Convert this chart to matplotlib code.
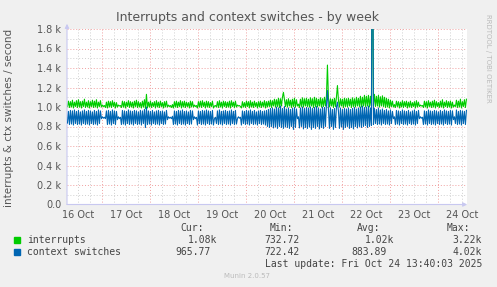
import numpy as np
import matplotlib
matplotlib.use('Agg')
import matplotlib.pyplot as plt


# données (une valeur par 30 min, à partir du 16 oct ~06:40)
debut_jours = 0.28
pas_jours = 1 / 48

interrupts = [
    1005, 1060, 995, 1055, 1000, 1070, 990, 1050, 1005, 1065, 995, 1075, 1000, 1055, 990, 1060, 1005, 1080, 995, 1050,
    1000, 1065, 990, 1055, 1005, 1070, 995, 1060, 1000, 1075, 990, 1050, 1005, 1065, 1000, 1020, 1005, 1015, 995, 1050,
    990, 1060, 1000, 1055, 995, 1065, 1005, 1050, 990, 1045, 1000, 1020, 1010, 1015, 995, 1060, 1000, 1055, 990, 1050,
    1005, 1065, 995, 1055, 1000, 1050, 990, 1060, 1005, 1070, 995, 1055, 1000, 1045, 990, 1060, 1000, 1075, 985, 1130,
    990, 1050, 1000, 1060, 995, 1045, 1005, 1055, 990, 1065, 1000, 1050, 995, 1060, 1005, 1045, 990, 1055, 1000, 1060,
    1000, 1020, 1005, 1015, 995, 1025, 990, 1055, 1000, 1060, 995, 1050, 1005, 1065, 990, 1055, 1000, 1060, 995, 1050,
    1005, 1045, 990, 1060, 1000, 1055, 1000, 1020, 1005, 1015, 990, 1055, 1000, 1060, 995, 1065, 1005, 1050, 990, 1060,
    1000, 1055, 995, 1045, 1005, 1060, 990, 1010, 1015, 1000, 1055, 995, 1065, 1000, 1050, 990, 1060, 1005, 1055, 995,
    1050, 1000, 1060, 990, 1065, 1005, 1050, 995, 1060, 1000, 1020, 1010, 1015, 1005, 990, 1055, 1000, 1045, 995, 1060,
    1005, 1055, 990, 1065, 1000, 1050, 995, 1060, 1005, 1045, 990, 1055, 1000, 1060, 995, 1050, 1005, 1065, 990, 1055,
    1000, 1060, 1005, 1070, 995, 1065, 1010, 1080, 1000, 1075, 1005, 1090, 995, 1085, 1010, 1100, 1150, 1080, 1005, 1075,
    1000, 1085, 1010, 1070, 995, 1080, 1005, 1090, 1000, 1075, 1010, 1030, 995, 1080, 1005, 1095, 1000, 1085, 1010, 1090,
    1005, 1080, 1000, 1095, 1010, 1085, 995, 1100, 1005, 1090, 1000, 1080, 1010, 1095, 1000, 1085, 1005, 1100, 1010, 1110,
    1430, 1090, 1000, 1085, 1010, 1080, 995, 1090, 1005, 1100, 1220, 1070, 1000, 1085, 1010, 1080, 995, 1090, 1005, 1085,
    1000, 1090, 1010, 1080, 995, 1095, 1005, 1085, 1000, 1100, 1010, 1090, 1005, 1110, 1000, 1100, 1010, 1120, 1005, 1110,
    1010, 1120, 1000, 1110, 1010, 3220, 1015, 1130, 1005, 1110, 1010, 1120, 1000, 1105, 1010, 1115, 1005, 1100, 995, 1090,
    1000, 1080, 990, 1070, 1005, 1060, 1000, 1025, 995, 1060, 1005, 1055, 990, 1050, 1000, 1065, 995, 1055, 1005, 1060,
    990, 1050, 1000, 1060, 995, 1045, 1005, 1055, 990, 1065, 1000, 1050, 1005, 1020, 1010, 1015, 995, 1060, 1000, 1055,
    990, 1065, 1005, 1050, 995, 1060, 1000, 1070, 990, 1055, 1005, 1045, 995, 1060, 1000, 1075, 990, 1050, 1005, 1065,
    995, 1055, 1000, 1060, 990, 1050, 1000, 1020, 1005, 1070, 995, 1060, 1000, 1080, 990, 1055, 1005, 1075, 995, 1080,
]

context_switches = [
    835, 955, 820, 965, 825, 960, 815, 970, 830, 955, 820, 965, 825, 950, 815, 960, 830, 970, 820, 955,
    825, 965, 815, 960, 830, 950, 820, 965, 825, 955, 815, 970, 830, 960, 880, 900, 885, 895, 880, 960,
    820, 965, 825, 955, 815, 970, 830, 960, 820, 955, 870, 900, 880, 895, 820, 965, 825, 960, 815, 955,
    830, 970, 820, 960, 825, 955, 815, 965, 830, 960, 820, 950, 825, 965, 815, 960, 830, 975, 790, 1000,
    820, 960, 825, 955, 815, 965, 830, 950, 820, 960, 825, 965, 815, 955, 830, 960, 820, 950, 825, 965,
    870, 900, 885, 895, 880, 905, 820, 960, 825, 955, 815, 965, 830, 960, 820, 970, 825, 955, 815, 960,
    830, 950, 820, 965, 825, 960, 870, 900, 880, 895, 815, 960, 830, 955, 820, 965, 825, 960, 815, 970,
    830, 960, 820, 955, 825, 965, 815, 880, 895, 830, 960, 820, 970, 825, 955, 815, 960, 830, 965, 820,
    955, 825, 960, 815, 970, 830, 955, 820, 965, 825, 880, 900, 885, 895, 815, 960, 830, 955, 820, 965,
    825, 960, 815, 970, 830, 955, 820, 965, 825, 950, 815, 960, 830, 965, 820, 955, 825, 960, 815, 965,
    800, 975, 790, 985, 800, 990, 785, 980, 795, 1000, 780, 990, 800, 1010, 790, 985, 780, 1005, 795, 980,
    790, 990, 780, 975, 800, 985, 770, 995, 790, 980, 880, 900, 785, 990, 800, 1000, 775, 985, 790, 995,
    780, 990, 795, 1000, 770, 985, 790, 995, 780, 1005, 800, 990, 775, 980, 790, 1000, 780, 995, 800, 1020,
    1170, 985, 780, 990, 800, 975, 770, 985, 790, 1000, 1050, 960, 780, 990, 795, 975, 770, 985, 790, 980,
    800, 990, 780, 975, 790, 985, 775, 995, 800, 980, 785, 990, 800, 1000, 790, 1010, 800, 995, 810, 1000,
    790, 1010, 800, 990, 810, 4020, 820, 985, 830, 975, 820, 990, 825, 970, 815, 980, 830, 965, 820, 975,
    825, 960, 815, 970, 830, 955, 880, 900, 820, 965, 825, 960, 815, 955, 830, 970, 820, 960, 825, 955,
    815, 965, 830, 950, 820, 960, 825, 970, 815, 955, 830, 965, 880, 900, 885, 895, 820, 960, 825, 955,
    815, 970, 830, 960, 820, 955, 825, 965, 815, 960, 830, 950, 820, 965, 825, 955, 815, 970, 830, 960,
    820, 955, 825, 965, 815, 960, 870, 900, 830, 970, 820, 955, 825, 965, 815, 960, 830, 955, 820, 966,
]

jours_labels = ['16 Oct', '17 Oct', '18 Oct', '19 Oct', '20 Oct', '21 Oct', '22 Oct', '23 Oct', '24 Oct']
y_labels = ['0.0', '0.2 k', '0.4 k', '0.6 k', '0.8 k', '1.0 k', '1.2 k', '1.4 k', '1.6 k', '1.8 k']

legende_noms = ['interrupts', 'context switches']
legende_couleurs = ['#00CC00', '#0066B3']
val_cur = ['1.08k', '965.77']
val_min = ['732.72', '722.42']
val_avg = ['1.02k', '883.89']
val_max = ['3.22k', '4.02k']


W, H = 497, 287
fig = plt.figure(figsize=(W / 100, H / 100), dpi=100, facecolor='#F0F0F0')

# zone de tracé : x 67 -> 467 px, y 29 -> 204.5 px
ax = fig.add_axes([67 / W, 1 - 204.5 / H, 400 / W, 175.5 / H])
ax.set_facecolor('white')

t = debut_jours + pas_jours * np.arange(len(interrupts))
x_min, x_max = (67 - 54) / 48, (467 - 54) / 48
ax.set_xlim(x_min, x_max)
ax.set_ylim(0, 1800)

# grille secondaire (6 h / 100) puis principale (jour / 200)
for v in np.arange(0.25, 9, 0.25):
    if x_min < v < x_max and v % 1 != 0:
        ax.axvline(v, color='#D0D0D0', lw=0.7, ls=(0, (1, 2)), zorder=1)
for v in range(1, 9):
    ax.axvline(v, color='#F0A0A0', lw=0.7, ls=(0, (1, 2)), zorder=1.5)
for v in range(100, 1800, 200):
    ax.axhline(v, color='#D0D0D0', lw=0.7, ls=(0, (1, 2)), zorder=1)
for v in range(200, 1801, 200):
    ax.axhline(v, color='#F0A0A0', lw=0.7, ls=(0, (1, 2)), zorder=1.5)

ax.plot(t, interrupts, color=legende_couleurs[0], lw=0.8, zorder=3)
ax.plot(t, context_switches, color=legende_couleurs[1], lw=0.8, zorder=4)

for s in ax.spines.values():
    s.set_visible(False)

# axes avec flèches comme rrdtool
ax.annotate('', xy=(470 / W, 1 - 204.5 / H), xytext=(64 / W, 1 - 204.5 / H), xycoords='figure fraction',
            arrowprops=dict(arrowstyle='-|>', color='#C8C8F0', lw=0.8, mutation_scale=6))
ax.annotate('', xy=(67 / W, 1 - 21 / H), xytext=(67 / W, 1 - 207 / H), xycoords='figure fraction',
            arrowprops=dict(arrowstyle='-|>', color='#C8C8F0', lw=0.8, mutation_scale=6))

ax.set_xticks(np.arange(len(jours_labels)) + 0.5)
ax.set_xticklabels(jours_labels)
ax.set_yticks(np.arange(len(y_labels)) * 200)
ax.set_yticklabels(y_labels)
ax.tick_params(length=0, labelsize=7, colors='#555555', pad=4)

fig.text(248 / W, 1 - 18 / H, 'Interrupts and context switches - by week', ha='center', va='center',
         fontsize=9, color='#555555')
fig.text(9 / W, 1 - 118 / H, 'interrupts & ctx switches / second', rotation=90, ha='center', va='center',
         fontsize=7.5, color='#555555')
fig.text(488 / W, 1 - 58 / H, 'RRDTOOL / TOBI OETIKER', rotation=-90, ha='center', va='center',
         fontsize=5, color='#BBBBBB')

# légende façon munin
mono = 'DejaVu Sans Mono'
kw = dict(fontsize=7, family=mono, color='#444444', va='center')
fig.text(204 / W, 1 - 228 / H, 'Cur:', ha='right', **kw)
fig.text(293 / W, 1 - 228 / H, 'Min:', ha='right', **kw)
fig.text(380 / W, 1 - 228 / H, 'Avg:', ha='right', **kw)
fig.text(470 / W, 1 - 228 / H, 'Max:', ha='right', **kw)

lignes_y = [240, 252]
bords_cur = [217, 211]
bords_avg = [394, 387]
for i in range(2):
    y = 1 - lignes_y[i] / H
    fig.patches.append(plt.Rectangle((14 / W, y - 3 / H), 6 / W, 6 / H, transform=fig.transFigure,
                                     color=legende_couleurs[i]))
    fig.text(27 / W, y, legende_noms[i], ha='left', **kw)
    fig.text(bords_cur[i] / W, y, val_cur[i], ha='right', **kw)
    fig.text(300 / W, y, val_min[i], ha='right', **kw)
    fig.text(bords_avg[i] / W, y, val_avg[i], ha='right', **kw)
    fig.text(482 / W, y, val_max[i], ha='right', **kw)

fig.text(482 / W, 1 - 264 / H, 'Last update: Fri Oct 24 13:40:03 2025', ha='right', **kw)
fig.text(247 / W, 1 - 276 / H, 'Munin 2.0.57', ha='center', va='center', fontsize=5, color='#BBBBBB')

fig.savefig('out.png', dpi=100, facecolor=fig.get_facecolor())
